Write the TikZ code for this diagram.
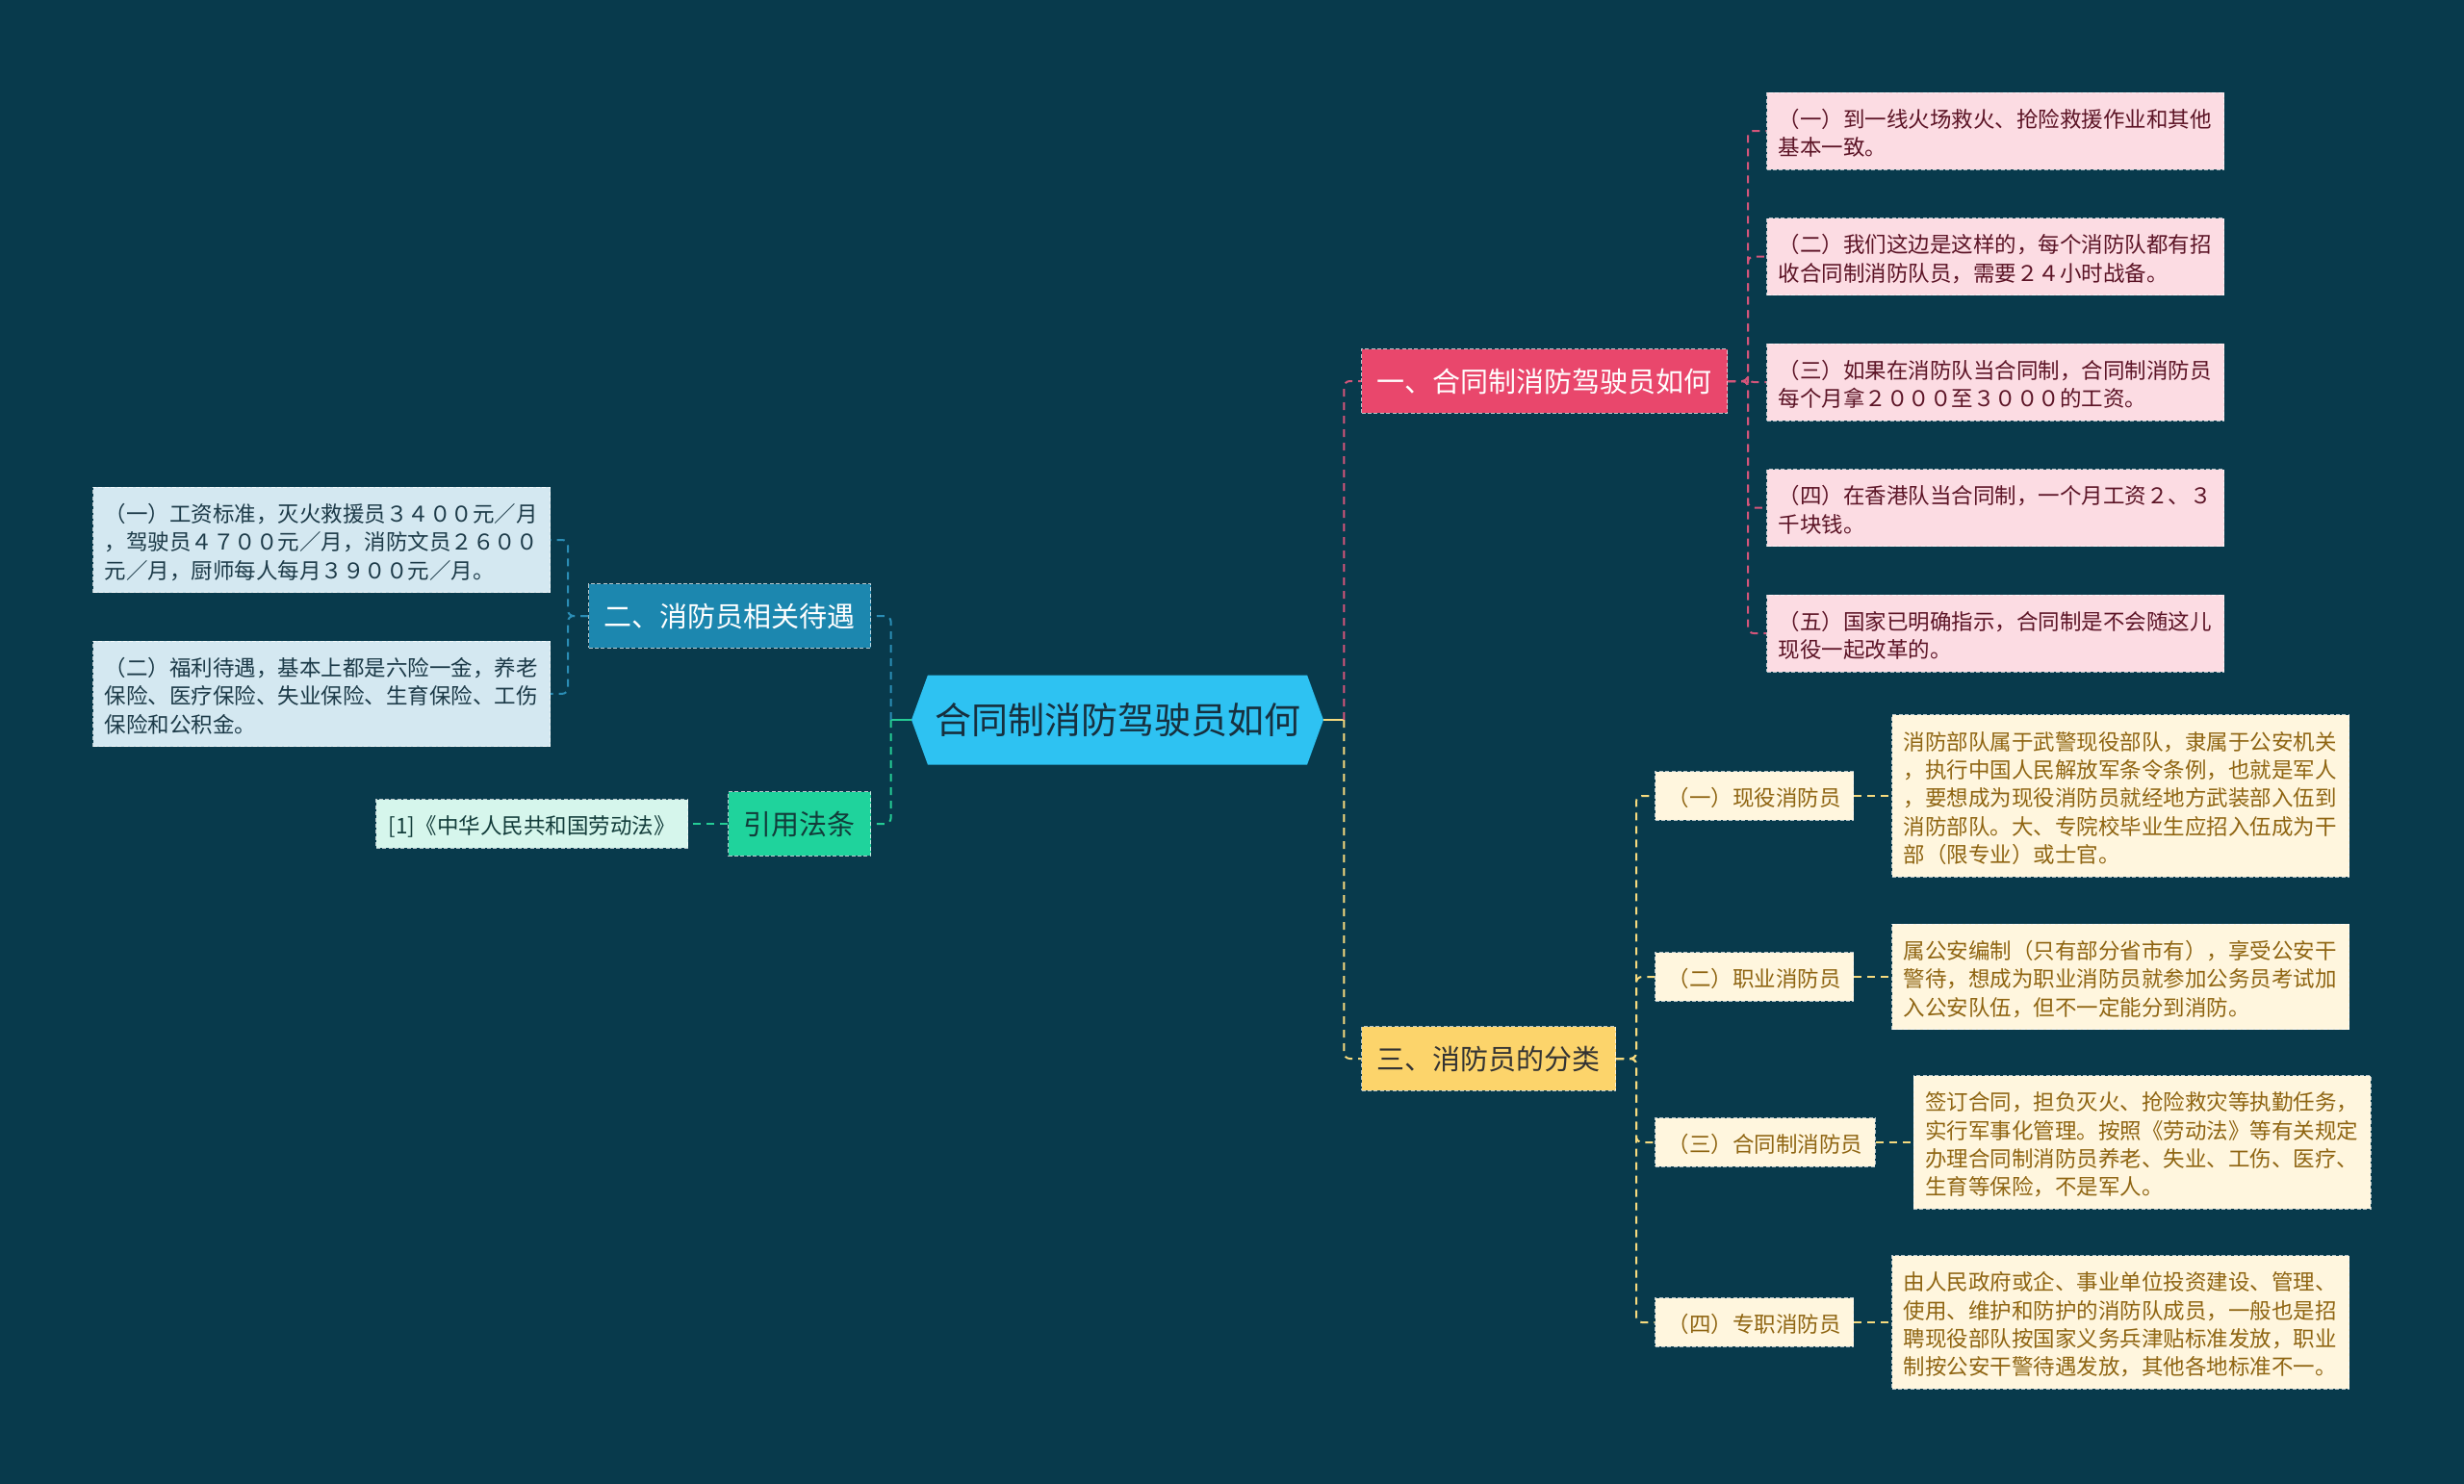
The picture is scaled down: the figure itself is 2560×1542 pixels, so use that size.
\documentclass[tikz,border=0pt]{standalone}
\usepackage{fontspec}
\setmainfont{Noto Sans CJK SC}
\usetikzlibrary{positioning,calc,shapes.symbols}

\definecolor{bgnavy}{HTML}{083A4C}
\definecolor{hubblue}{HTML}{2EC2F2}
\definecolor{hubtext}{HTML}{17303F}
\definecolor{rosered}{HTML}{E9476C}
\definecolor{rosepale}{HTML}{FCDCE3}
\definecolor{rosetext}{HTML}{5C1426}
\definecolor{roseline}{HTML}{D4557A}
\definecolor{tealblue}{HTML}{1C87AF}
\definecolor{tealpale}{HTML}{D4E8F1}
\definecolor{tealtext}{HTML}{1C3A48}
\definecolor{tealline}{HTML}{2B8DB5}
\definecolor{mintgreen}{HTML}{1FD39C}
\definecolor{mintpale}{HTML}{D6F6EC}
\definecolor{minttext}{HTML}{123C3A}
\definecolor{mintline}{HTML}{25CC95}
\definecolor{sunyellow}{HTML}{FCD46B}
\definecolor{sunpale}{HTML}{FFF6DE}
\definecolor{suntext}{HTML}{8F6512}
\definecolor{sunline}{HTML}{F6DA7E}

% struts that sit the text a little low in its box
\newcommand\hightop{\rule{0pt}{.87\baselineskip}}
\newcommand\lowbot{\rule[-.13\baselineskip]{0pt}{.13\baselineskip}}

\tikzset{
  box/.style={rectangle,draw=white,draw opacity=0.7,line width=0.5pt,
    dash pattern=on 2pt off 1.2pt,inner ysep=5.3pt},
  leaf/.style={box,text width=225.5pt,inner xsep=6pt,align=left,
    font=\fontsize{11.25}{14.7}\selectfont,
    execute at begin node=\hightop,execute at end node=\lowbot},
  sub/.style={box,inner xsep=6.5pt,font=\fontsize{11.25}{14.7}\selectfont,
    execute at begin node=\hightop\lowbot},
  topic/.style={box,inner xsep=8pt,inner ysep=7.2pt,
    font=\fontsize{14.5}{19}\selectfont,
    execute at begin node={\rule{0pt}{.79\baselineskip}\rule[-.21\baselineskip]{0pt}{.21\baselineskip}}},
  hub/.style={signal,signal to=west and east,signal pointer angle=140,
    fill=hubblue,text=hubtext,minimum width=214pt,minimum height=46.5pt,
    inner xsep=0pt,font=\fontsize{19}{24}\selectfont},
  link/.style={line width=1pt,dash pattern=on 4pt off 3pt,rounded corners=3pt},
}

\begin{document}
\begin{tikzpicture}[x=0.5pt,y=-0.5pt]
\fill[bgnavy] (0,0) rectangle (2560,1542);
\useasboundingbox (0,0) rectangle (2560,1542);

\node[hub] (hub) at (1161,748) {合同制消防驾驶员如何};

% branches
\node[topic,fill=rosered,text=white,anchor=west] (b1) at (1414,396) {一、合同制消防驾驶员如何};
\node[topic,fill=sunyellow,text=black!80,anchor=west] (b3) at (1414,1100) {三、消防员的分类};
\node[topic,fill=tealblue,text=white,anchor=east] (b2) at (905,640) {二、消防员相关待遇};
\node[topic,fill=mintgreen,text=minttext,anchor=east] (b4) at (905,856) {引用法条};

% first branch
\node[leaf,fill=rosepale,text=rosetext,anchor=west] (p1) at (1835,136)
  {（一）到一线火场救火、抢险救援作业和其他\\基本一致。};
\node[leaf,fill=rosepale,text=rosetext,below=24.75pt of p1] (p2)
  {（二）我们这边是这样的，每个消防队都有招\\收合同制消防队员，需要２４小时战备。};
\node[leaf,fill=rosepale,text=rosetext,below=24.75pt of p2] (p3)
  {（三）如果在消防队当合同制，合同制消防员\\每个月拿２０００至３０００的工资。};
\node[leaf,fill=rosepale,text=rosetext,below=24.75pt of p3] (p4)
  {（四）在香港队当合同制，一个月工资２、３\\千块钱。};
\node[leaf,fill=rosepale,text=rosetext,below=24.75pt of p4] (p5)
  {（五）国家已明确指示，合同制是不会随这儿\\现役一起改革的。};

% second branch
\node[leaf,fill=tealpale,text=tealtext,anchor=east] (t1) at (572,561)
  {（一）工资标准，灭火救援员３４００元／月\\，驾驶员４７００元／月，消防文员２６００\\元／月，厨师每人每月３９００元／月。};
\node[leaf,fill=tealpale,text=tealtext,below=24.75pt of t1] (t2)
  {（二）福利待遇，基本上都是六险一金，养老\\保险、医疗保险、失业保险、生育保险、工伤\\保险和公积金。};

% law
\node[sub,fill=mintpale,text=minttext,left=20.5pt of b4] (law) {[1]《中华人民共和国劳动法》};

% third branch
\node[sub,fill=sunpale,text=suntext,anchor=west] (s1) at (1719,827) {（一）现役消防员};
\node[sub,fill=sunpale,text=suntext,anchor=west] (s2) at (1719,1015) {（二）职业消防员};
\node[sub,fill=sunpale,text=suntext,anchor=west] (s3) at (1719,1187) {（三）合同制消防员};
\node[sub,fill=sunpale,text=suntext,anchor=west] (s4) at (1719,1374) {（四）专职消防员};

\node[leaf,fill=sunpale,text=suntext,right=19.5pt of s1] (c1)
  {消防部队属于武警现役部队，隶属于公安机关\\，执行中国人民解放军条令条例，也就是军人\\，要想成为现役消防员就经地方武装部入伍到\\消防部队。大、专院校毕业生应招入伍成为干\\部（限专业）或士官。};
\node[leaf,fill=sunpale,text=suntext,right=19.5pt of s2] (c2)
  {属公安编制（只有部分省市有），享受公安干\\警待，想成为职业消防员就参加公务员考试加\\入公安队伍，但不一定能分到消防。};
\node[leaf,fill=sunpale,text=suntext,right=19.5pt of s3] (c3)
  {签订合同，担负灭火、抢险救灾等执勤任务，\\实行军事化管理。按照《劳动法》等有关规定\\办理合同制消防员养老、失业、工伤、医疗、\\生育等保险，不是军人。};
\node[leaf,fill=sunpale,text=suntext,right=19.5pt of s4] (c4)
  {由人民政府或企、事业单位投资建设、管理、\\使用、维护和防护的消防队成员，一般也是招\\聘现役部队按国家义务兵津贴标准发放，职业\\制按公安干警待遇发放，其他各地标准不一。};

% connectors
\coordinate (hr) at ($(hub.east)+(21,0)$);
\coordinate (hl) at ($(hub.west)+(-21,0)$);
\draw[link,sunline,solid] (hub.east) -- (hr);
\draw[link,roseline] (hr) |- (b1.west);
\draw[link,sunline] (hr) |- (b3.west);
\draw[link,mintline,solid] (hub.west) -- (hl);
\draw[link,tealline] (hl) |- (b2.east);
\draw[link,mintline] (hl) |- (b4.east);

\foreach \i in {1,...,5}
  \draw[link,roseline] (b1.east) -- ++(21,0) |- (p\i.west);
\foreach \i in {1,2}
  \draw[link,tealline] (b2.west) -- ++(-21,0) |- (t\i.east);
\draw[link,mintline] (b4.west) -- (law.east);
\foreach \i in {1,...,4} {
  \draw[link,sunline] (b3.east) -- ++(21,0) |- (s\i.west);
  \draw[link,sunline] (s\i.east) -- (c\i.west);
}
\end{tikzpicture}
\end{document}
